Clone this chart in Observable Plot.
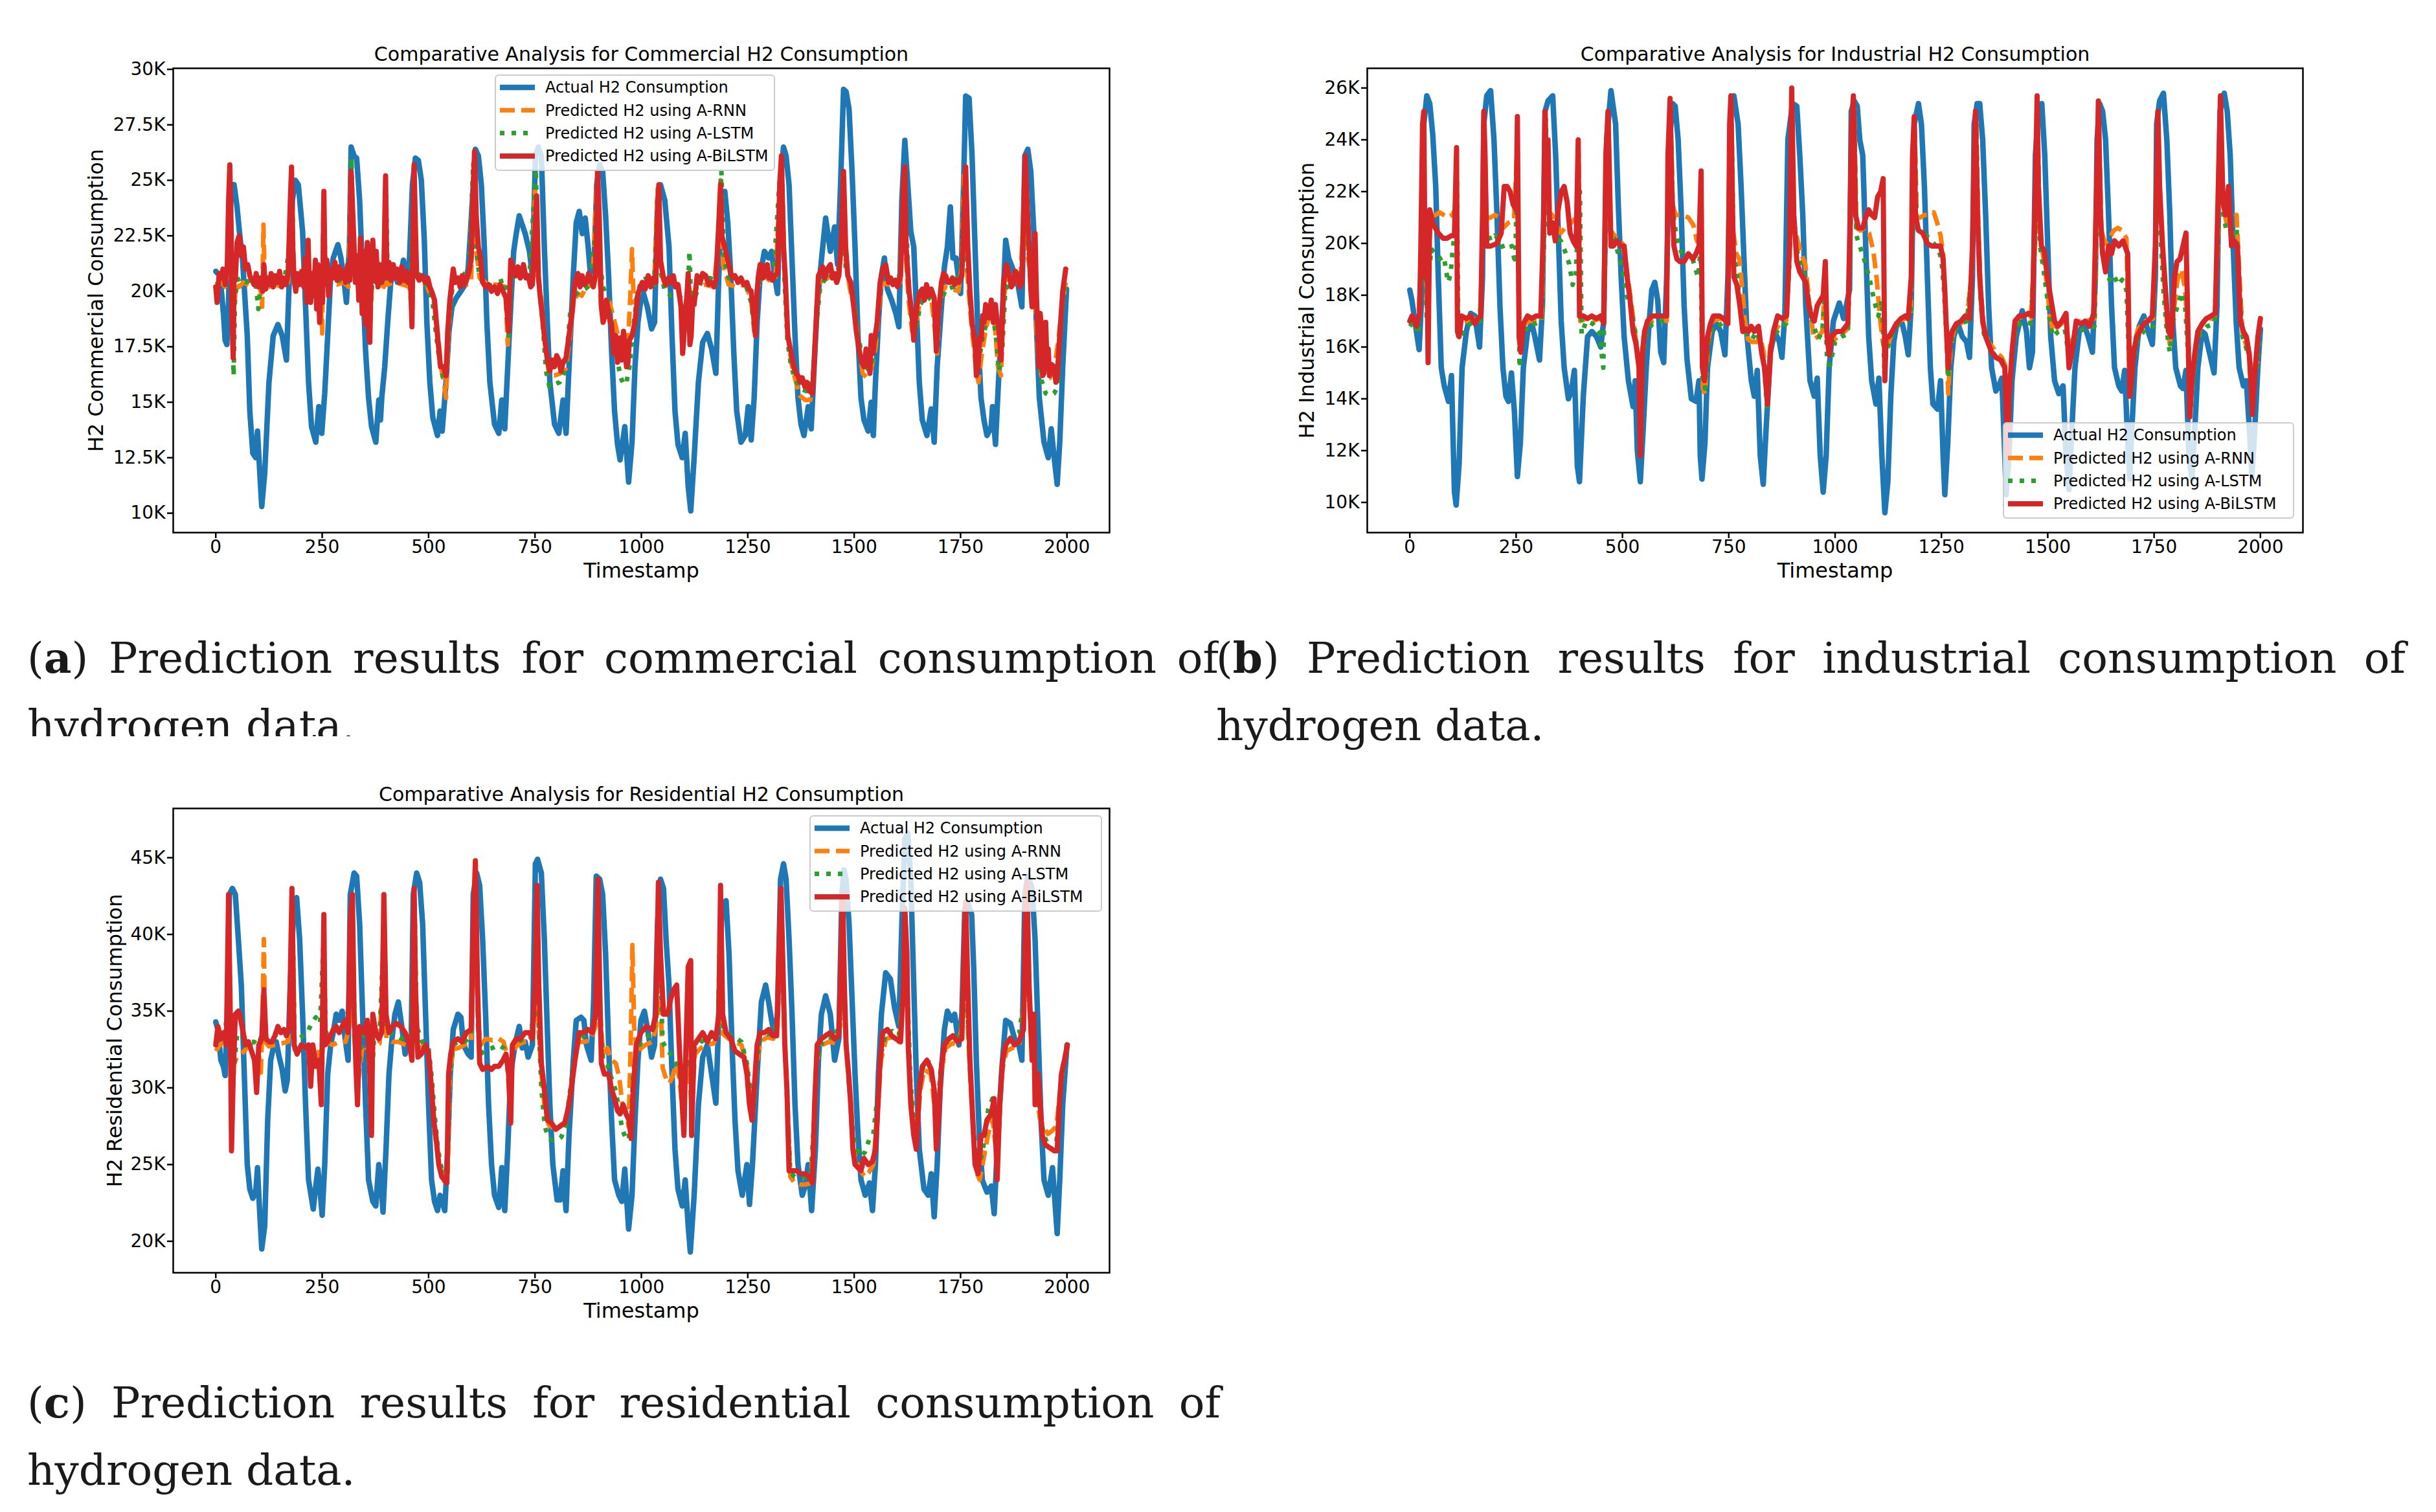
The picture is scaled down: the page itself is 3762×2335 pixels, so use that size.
<!DOCTYPE html>
<html>
<head>
<meta charset="utf-8">
<script src="https://cdn.jsdelivr.net/npm/d3@7"></script>
<script src="https://cdn.jsdelivr.net/npm/@observablehq/plot@0.6"></script>
<style>
  body { margin: 0; background: #fff; width: 3762px; height: 2335px; position: relative; overflow: hidden; }
  .panel { position: absolute; }
  .cap { position: absolute; font-family: "DejaVu Serif", serif; font-size: 66px; line-height: 104px; color: #1a1a1a; }
  .cap .l1 { text-align: justify; text-align-last: justify; }
</style>
</head>
<body>
<div id="pa" class="panel" style="left:60px;top:30px"></div>
<div id="pb" class="panel" style="left:1904px;top:30px"></div>
<div id="pc" class="panel" style="left:60px;top:1173px"></div>

<div class="cap" style="left:42px;top:964px;width:1840px;height:173px;overflow:hidden">
  <div class="l1">(<b>a</b>) Prediction results for commercial consumption of</div>
  <div>hydrogen data.</div>
</div>
<div class="cap" style="left:1878px;top:964px;width:1837px">
  <div class="l1">(<b>b</b>) Prediction results for industrial consumption of</div>
  <div>hydrogen data.</div>
</div>
<div class="cap" style="left:42px;top:2114px;width:1843px">
  <div class="l1">(<b>c</b>) Prediction results for residential consumption of</div>
  <div>hydrogen data.</div>
</div>

<script>
// values in thousands, stored as timestamp, value pairs
const xTicks = [0, 250, 500, 750, 1000, 1250, 1500, 1750, 2000]
const seriesNames = ['Actual H2 Consumption', 'Predicted H2 using A-RNN', 'Predicted H2 using A-LSTM', 'Predicted H2 using A-BiLSTM']

// commercial
const comActual = [0,20.9, 10,20.7, 18,19, 22,17.8, 26,17.6, 30,19.5, 36,24.8, 43,24.8, 50,23.8, 56,22.6, 63,21.4, 74,18, 80,14.6, 87,12.7, 94,12.5, 98,13.7, 102,12.3, 108,10.3, 115,11.8, 125,15.9, 135,18, 146,18.5, 156,18, 166,16.9, 173,20.7, 180,24.1, 187,25, 194,24.8, 204,22.7, 211,19.3, 218,15.9, 225,13.9, 235,13.2, 242,14.8, 249,13.6, 256,15.4, 263,18, 270,20.7, 276,21.5, 287,22.1, 294,21.5, 300,20.7, 307,19.5, 314,22, 318,26.5, 325,26.1, 331,26, 338,24.1, 345,20.7, 352,17.3, 359,15.2, 366,13.9, 376,13.2, 383,15.1, 387,14.2, 390,15.2, 397,16.6, 404,18.6, 411,20.4, 421,21, 427,20.4, 435,20.8, 441,21.4, 448,20.4, 455,21.4, 462,24.8, 469,26, 476,25.9, 483,25, 490,22.3, 496,18.6, 503,15.9, 510,14.3, 521,13.5, 527,14.6, 532,13.7, 541,15.9, 548,18.2, 555,19.3, 565,19.7, 576,20, 586,20.3, 593,21, 603,24.1, 610,26.4, 617,26.1, 624,24.8, 631,22, 637,18.6, 644,15.9, 655,14, 665,13.6, 672,15.1, 679,13.8, 686,16.6, 693,19.3, 700,21.8, 706,22.6, 713,23.4, 720,23, 727,22.6, 737,21.8, 744,20.7, 751,26.1, 758,26.5, 765,26.1, 772,22, 779,18.6, 785,15.9, 796,14, 806,13.6, 816,15.1, 823,13.6, 830,16.6, 840,20.7, 847,23.1, 854,23.6, 861,22.6, 868,23.3, 875,22, 882,20.4, 888,20.7, 895,24.8, 902,25.7, 909,25.4, 916,23.4, 923,20.7, 930,17.3, 937,14.6, 944,13.1, 950,12.4, 961,13.9, 970,11.4, 978,13.2, 985,16.6, 992,18.6, 1002,20.1, 1014,19.3, 1024,18.3, 1031,18.6, 1038,24.1, 1045,24.8, 1055,24.1, 1065,22, 1072,18, 1079,14.6, 1086,13.1, 1096,12.5, 1103,13.6, 1110,11.2, 1116,10.1, 1124,12.5, 1134,15.9, 1144,17.7, 1155,18.1, 1165,17.4, 1175,16.3, 1182,20.7, 1189,24.3, 1196,24.5, 1203,23.1, 1210,20.7, 1217,17.3, 1224,14.6, 1234,13.2, 1244,13.5, 1251,14.8, 1258,13.3, 1265,15.2, 1272,18.6, 1279,20.7, 1289,21.8, 1299,21.5, 1306,21.8, 1313,20.7, 1320,19.9, 1327,25, 1334,26.5, 1340,26.1, 1347,24.8, 1354,21.4, 1361,18, 1368,15.2, 1375,14, 1382,13.5, 1392,14.8, 1399,13.8, 1406,16.6, 1413,19.3, 1423,21.4, 1433,23.3, 1444,21.8, 1454,22.9, 1461,21.2, 1468,24.8, 1475,29.1, 1481,29, 1488,28.2, 1495,25.4, 1502,22, 1509,18, 1516,15.2, 1523,14.2, 1533,13.7, 1540,15, 1545,13.5, 1550,15.9, 1557,18.6, 1564,20.7, 1571,21.5, 1578,20.1, 1588,19.6, 1598,19, 1605,18.4, 1612,24.1, 1619,26.8, 1626,24.8, 1633,22.7, 1640,22, 1646,19.3, 1653,15.9, 1660,14.2, 1671,13.5, 1681,14.7, 1688,13.2, 1695,16.6, 1705,19.3, 1712,21.1, 1719,22, 1726,23.8, 1732,21.5, 1739,21.5, 1750,19.9, 1757,24.8, 1762,28.8, 1770,28.7, 1777,26.1, 1784,22, 1791,18, 1798,15.2, 1805,14.2, 1812,13.5, 1822,13.9, 1825,14.8, 1832,13.1, 1839,15.9, 1849,19.3, 1856,22.3, 1863,21.5, 1873,21, 1884,20.4, 1894,19.3, 1901,26.1, 1908,26.4, 1915,25.4, 1922,22.7, 1928,18.6, 1935,15.2, 1946,13.2, 1956,12.5, 1963,13.8, 1970,12.5, 1977,11.3, 1983,13.2, 1990,16.6, 1999,20.1]
const comRnn = [0,20.1, 8,20.3, 15,20.4, 22,20.2, 28,21, 31,24.5, 34,23, 37,20, 40,17.2, 44,19.5, 48,20.3, 55,20.2, 65,20.4, 75,20.3, 85,20.2, 95,20.3, 105,20.1, 109,19.3, 112,23, 115,20.4, 125,20.2, 140,20.3, 155,20.2, 170,20.4, 175,23.4, 178,25.4, 182,21, 186,20.3, 200,20.2, 215,20.4, 230,20.3, 245,20.2, 250,18.1, 253,24.2, 257,20.3, 270,20.4, 285,20.3, 300,20.4, 312,20.2, 317,25.2, 322,21.5, 330,20.5, 345,20.3, 356,20.2, 363,18.6, 367,20.3, 380,20.4, 395,20.2, 398,24.6, 402,20.3, 420,20.4, 440,20.3, 455,20.2, 462,19, 466,25, 470,21, 480,20.4, 495,20.3, 505,19.8, 515,19.4, 522,18, 530,16.5, 537,15.8, 541,15.2, 546,17.8, 552,19.8, 560,20.4, 575,20.5, 590,20.3, 600,20.5, 606,25.5, 611,22, 620,20.6, 640,20.3, 660,20.3, 680,20.2, 686,17.6, 692,20.8, 705,20.6, 720,20.7, 735,20.6, 745,20.4, 750,24.5, 755,21, 765,19.6, 775,17.5, 783,16.2, 795,16.2, 810,16.3, 822,16.5, 830,17.6, 840,19.4, 850,19.9, 860,19.8, 870,20.2, 885,20.3, 895,24.8, 900,21.5, 905,19.4, 915,19.7, 925,19.5, 935,18.8, 945,18, 955,17.3, 962,17.5, 968,17.4, 974,19.8, 978,21.9, 982,19.5, 990,19.7, 1000,20.2, 1015,20.3, 1030,20.3, 1038,24.6, 1043,21, 1055,20.3, 1070,20.2, 1085,20.2, 1095,19.3, 1100,17.8, 1105,19.5, 1112,20.2, 1120,19.5, 1130,20.2, 1150,20.3, 1170,20.2, 1180,22, 1186,25, 1192,21.2, 1205,20.3, 1225,20.2, 1245,20.3, 1258,19.6, 1265,18.2, 1272,20.1, 1285,20.8, 1300,20.5, 1315,20.5, 1325,24.5, 1330,25.6, 1336,21, 1343,18.3, 1352,16.8, 1362,16, 1372,15.3, 1385,15.1, 1397,15.1, 1404,16, 1410,18.5, 1418,20.4, 1430,20.5, 1445,20.7, 1460,20.4, 1470,22, 1474,25.2, 1480,21.4, 1490,20.1, 1500,19.3, 1510,17.7, 1520,16.3, 1530,16.1, 1540,16.5, 1550,17.4, 1558,19.2, 1565,20.4, 1580,20.3, 1595,20.2, 1608,20.4, 1615,24.2, 1620,22, 1628,19.6, 1636,18.2, 1645,18.5, 1655,19.6, 1665,19.8, 1680,19.9, 1690,18.2, 1695,17.2, 1700,19.5, 1712,20.2, 1730,20.1, 1745,20, 1752,21, 1758,25.2, 1765,21, 1775,18.6, 1785,16.8, 1792,15.9, 1800,17.2, 1810,18.4, 1820,19, 1830,18.6, 1838,16.6, 1845,16.2, 1852,19.8, 1860,20.6, 1875,20.5, 1890,20.3, 1897,23, 1902,25.8, 1908,21.5, 1916,20.7, 1925,19.6, 1932,17, 1940,16.2, 1950,16.1, 1960,16.1, 1970,16.5, 1980,17.8, 1988,19.3, 1997,20.4]
const comLstm = [0,20.3, 10,20.4, 20,20.5, 28,20.8, 33,25.7, 36,22, 39,18, 42,16.2, 45,19.5, 50,20.5, 60,20.6, 70,20.4, 80,20.5, 95,20.2, 100,19.2, 105,20.3, 120,20.4, 140,20.3, 160,20.4, 174,22, 178,25.7, 183,21, 195,20.3, 210,20.4, 225,20.3, 240,20.5, 250,19.7, 254,24, 258,20.6, 275,20.4, 290,20.5, 305,20.4, 316,21, 319,26, 323,21.5, 335,20.7, 350,20.5, 362,18.8, 368,20.5, 385,20.3, 397,20.6, 400,24.5, 404,20.6, 420,20.4, 440,20.6, 458,20.3, 466,25.4, 471,21, 485,20.5, 500,20.2, 510,19.4, 518,18, 526,16.8, 535,16, 542,16.3, 548,18.5, 555,20, 565,20.6, 580,20.7, 595,21, 605,25.8, 611,22, 620,20.6, 640,20.2, 660,20.4, 680,20.5, 688,18, 695,20.6, 710,20.7, 725,20.8, 738,21, 746,23.6, 752,25.5, 758,20.5, 768,18.6, 776,16.4, 784,15.7, 795,15.8, 808,15.9, 818,16.3, 826,17.5, 834,19.3, 842,19.8, 855,20, 868,20.1, 880,20.3, 893,23, 897,25.6, 902,21.3, 910,20.2, 920,19.7, 930,18.6, 940,17.4, 950,16.2, 958,15.8, 965,15.9, 972,16.6, 980,18.2, 990,19.8, 1000,20.5, 1015,20.6, 1030,20.3, 1038,24.2, 1044,21, 1055,20, 1070,19.8, 1085,19.9, 1097,19.6, 1102,18.6, 1108,19.5, 1113,21.8, 1117,19.4, 1125,19.7, 1140,20.4, 1160,20.6, 1176,20.5, 1182,22.5, 1188,25.4, 1194,21.5, 1205,20.6, 1225,20.5, 1245,20.3, 1258,19.5, 1265,18.5, 1272,20.2, 1290,20.9, 1310,20.6, 1324,24.8, 1330,25.6, 1336,20.6, 1343,17.8, 1352,16.6, 1362,16, 1374,15.6, 1388,15.5, 1398,15.6, 1405,16.5, 1412,18.6, 1420,20.2, 1440,20.8, 1460,20.4, 1470,22.5, 1474,25.3, 1480,21, 1490,20.4, 1500,19.5, 1510,18, 1520,16.8, 1532,16.5, 1542,16.8, 1550,17.8, 1558,19.6, 1565,20.6, 1585,20.4, 1605,20.5, 1615,24, 1620,24.5, 1627,20.6, 1636,18.5, 1645,18.2, 1655,19.4, 1670,19.8, 1688,19.5, 1694,17.5, 1700,19.3, 1715,20.1, 1735,20.2, 1752,21.2, 1758,24.7, 1765,21.4, 1775,19, 1785,17.3, 1793,16.8, 1802,18, 1812,18.6, 1822,19.1, 1832,18.2, 1840,16.4, 1848,17.4, 1855,20, 1865,20.5, 1880,20.4, 1895,21, 1902,25.4, 1908,22, 1916,20.8, 1925,20.4, 1932,17.8, 1940,16, 1950,15.4, 1960,15.3, 1970,15.4, 1978,15.7, 1985,18.2, 1992,20, 1998,20.2]
const comBi = [0,20.2, 3,19.5, 8,20.8, 12,20.6, 17,21, 22,20.3, 27,21.2, 30,24, 33,25.7, 36,23, 38,19, 41,17, 43,21, 46,20.5, 50,22.2, 55,22.5, 60,21.6, 65,22, 70,21, 75,21.2, 80,20.7, 85,20.5, 90,20.3, 95,20.8, 100,20.2, 105,20.6, 110,20, 113,21.2, 117,20.1, 122,20.6, 127,20.3, 130,20.8, 135,20.2, 140,20.7, 145,20.4, 150,20.9, 155,20.2, 160,20.6, 165,20.3, 170,20.8, 175,24, 178,25.6, 181,22, 184,20.5, 188,20, 192,20.8, 197,20.3, 202,20.9, 207,20.2, 210,21.5, 214,19.5, 217,22.3, 220,20.2, 223,19.5, 226,20.8, 230,19.8, 234,21.4, 237,19.2, 240,21.2, 244,18.6, 248,21, 251,19.5, 254,24.5, 257,20.3, 261,21.4, 265,19.8, 270,21, 275,20.6, 280,21.3, 285,20.5, 290,21.1, 295,20.6, 300,20.9, 305,20.4, 310,21.2, 315,20.5, 318,25.4, 321,24, 324,22.5, 328,20.4, 332,21.6, 336,19.6, 340,22.4, 344,19, 348,21.8, 352,18.5, 356,22.2, 360,18, 362,17.7, 365,21, 369,22.3, 373,20.5, 377,21.8, 381,20.2, 385,21.2, 390,20.4, 395,21, 399,25.2, 402,20.6, 407,21.3, 412,20.5, 417,21.2, 422,20.6, 427,21, 432,20.4, 437,21.1, 442,20.5, 447,20.9, 452,20.4, 457,20.8, 461,18.4, 463,22, 466,25.7, 469,23, 472,20.7, 478,20.5, 485,20.7, 492,20.4, 498,20.6, 503,20.2, 509,19.9, 514,19.6, 521,18, 528,16.6, 535,16.6, 541,16.2, 545,18.2, 550,19.6, 558,21, 563,20.4, 569,20.6, 574,20.2, 579,20.7, 584,20.3, 589,20.5, 595,20.9, 600,21.4, 603,23.4, 608,26.3, 612,23.4, 617,22, 622,21.5, 627,20.4, 634,20.2, 641,20.3, 648,20, 655,20.2, 662,19.9, 668,20.3, 675,20, 682,19.7, 688,18.2, 693,21.4, 700,21, 705,20.7, 710,21.1, 716,20.6, 723,21.2, 729,20.6, 734,20.7, 740,20.2, 744,20.3, 748,22, 751,23.1, 754,24.3, 758,20.7, 762,19.8, 765,19.3, 772,18, 779,16.9, 785,16.4, 790,16.9, 796,16.6, 801,17.1, 806,16.9, 811,16.4, 816,16.8, 823,17, 830,18, 837,19, 844,20.4, 851,20.8, 856,20.2, 861,20.7, 866,20.3, 871,20.4, 876,20.8, 882,20.5, 887,20.2, 892,20.7, 897,25.4, 901,23.4, 906,19.3, 910,18.6, 913,18.8, 918,19.6, 923,19, 927,18.6, 930,18.5, 935,17.2, 940,18, 944,16.8, 947,17.1, 951,17.9, 954,16.9, 958,18.2, 961,17.5, 965,16.6, 968,16.7, 972,17.8, 978,18, 985,18.6, 992,19.9, 1002,20.4, 1009,20.1, 1016,20.7, 1022,20.2, 1028,20.6, 1034,20.4, 1038,23.4, 1041,24.8, 1045,21.4, 1052,20.6, 1058,20.3, 1064,20.6, 1069,20.4, 1075,20.7, 1080,20.2, 1086,20.3, 1093,19.3, 1097,17.2, 1100,18, 1103,18.9, 1107,19.8, 1110,20.8, 1114,17.6, 1117,18, 1121,19.7, 1124,19.4, 1131,20.7, 1138,20.4, 1144,20.8, 1151,20.7, 1158,20.3, 1165,20.4, 1171,20.2, 1175,20.5, 1182,23.1, 1186,24.8, 1189,22.5, 1196,22, 1203,21.4, 1210,20.8, 1215,20.6, 1220,20.7, 1227,20.4, 1234,20.6, 1241,20.3, 1248,20.4, 1253,20.1, 1258,20, 1262,19.3, 1265,18.6, 1268,18, 1272,20, 1275,20.7, 1279,21.2, 1282,21.2, 1286,20.6, 1289,20.7, 1293,21.1, 1296,21.2, 1300,20.6, 1303,20.8, 1308,20.5, 1313,20.7, 1320,20.8, 1325,24.8, 1329,26.1, 1334,22, 1338,20.7, 1344,18, 1351,17.3, 1358,16.6, 1363,16.3, 1368,16.2, 1373,15.9, 1378,16.1, 1384,15.7, 1389,15.9, 1395,15.5, 1402,15.4, 1409,18, 1416,20.7, 1421,20.9, 1426,21.1, 1431,20.6, 1437,21, 1444,21.2, 1449,20.6, 1454,20.8, 1459,20.4, 1464,20.7, 1469,22, 1475,25.4, 1480,22, 1485,20.7, 1492,20.4, 1499,19.3, 1505,18.2, 1512,17.3, 1518,16.8, 1523,16.6, 1528,17.4, 1533,17.1, 1537,16.3, 1540,18, 1544,17.2, 1547,17.7, 1551,18.2, 1554,18.6, 1561,20.4, 1567,21, 1574,21.2, 1581,20.4, 1586,20.6, 1591,20.3, 1597,20.5, 1602,20.2, 1609,20.7, 1616,24.8, 1619,25.6, 1622,22, 1629,20, 1636,18.9, 1640,17.8, 1643,18.6, 1648,19.4, 1653,19.9, 1660,20.1, 1665,19.6, 1670,20.3, 1676,19.8, 1681,20.1, 1688,19.7, 1693,17.3, 1698,19, 1705,20.4, 1710,20.8, 1715,20.7, 1720,20.4, 1726,20.4, 1731,20.6, 1736,20.3, 1741,20.5, 1746,20.4, 1753,20.7, 1758,23.4, 1762,25.6, 1767,22, 1772,20, 1777,18.6, 1784,17.6, 1787,16.2, 1791,16.6, 1795,17.9, 1798,17.8, 1802,18.9, 1805,18.6, 1809,19.4, 1812,19.3, 1817,18.8, 1822,19.6, 1827,18.6, 1832,19.4, 1836,18.6, 1839,18.6, 1845,16.9, 1851,20.4, 1858,21.2, 1865,20.7, 1869,20.2, 1873,20.3, 1879,20.9, 1884,20.7, 1889,20.2, 1894,20.4, 1898,23.4, 1902,26.1, 1906,24.1, 1911,22, 1915,20.1, 1918,19.3, 1922,20.4, 1925,22.6, 1928,20, 1931,18.4, 1934,16.6, 1937,19, 1939,18.6, 1943,16.2, 1946,16.3, 1950,18.6, 1953,16.8, 1956,17.4, 1959,16.2, 1964,16.7, 1970,16.6, 1974,15.9, 1977,16.1, 1983,18, 1990,20, 1997,21]

// industrial
const indActual = [0,18.2, 5,17.8, 12,17, 22,15.9, 30,18.7, 33,24.6, 40,25.7, 47,25.4, 54,24.2, 61,22.2, 67,18.7, 74,15.2, 81,14.5, 91,13.9, 98,14.9, 105,10.4, 109,9.9, 116,11.5, 123,15.2, 133,16.6, 143,17.3, 153,17.2, 164,16, 171,18.7, 174,24.6, 181,25.7, 190,25.9, 198,24, 205,21.1, 212,17.6, 219,15.2, 226,14.1, 232,13.9, 239,15, 246,13.5, 253,11, 260,12.3, 267,15.2, 277,16.6, 287,16.9, 294,16.4, 305,15.5, 312,17.6, 318,25.1, 325,25.5, 336,25.7, 343,23.4, 349,20.5, 356,17, 363,15.2, 373,14, 380,14.3, 387,15.1, 394,11.4, 399,10.8, 408,14.1, 418,16.4, 428,16.6, 439,16.4, 449,16, 456,17, 463,24, 473,25.9, 484,24.6, 490,21.6, 497,18.7, 504,16.4, 514,14.7, 525,13.7, 530,14.7, 535,12, 542,10.8, 549,12.9, 556,15.2, 563,17, 569,18.2, 576,18.5, 583,17.8, 590,15.8, 597,15.4, 604,18.7, 611,24, 618,25.4, 624,25.3, 631,24, 638,21.3, 645,17.6, 652,15.5, 662,14, 673,13.9, 680,14.7, 683,11.8, 687,10.9, 694,12.3, 700,15.2, 711,16.6, 721,16.9, 731,16.6, 741,15.7, 748,18.7, 755,25.1, 762,25.7, 772,24.6, 779,22.2, 786,19.3, 793,16.4, 803,14.7, 810,14.1, 817,15.1, 824,11.8, 831,10.7, 838,12.9, 848,15.8, 858,16.6, 869,16.2, 875,15.6, 882,17.3, 889,24, 900,25.4, 910,25.3, 917,23.4, 924,21.1, 931,17.6, 941,14.7, 951,14.1, 958,14.8, 965,11.8, 972,10.4, 979,11.8, 986,15.2, 996,17, 1010,17.7, 1020,17.1, 1034,18.2, 1038,25.1, 1045,25.5, 1052,25.3, 1058,24, 1065,23.4, 1072,19.9, 1079,16.4, 1086,14.7, 1096,13.8, 1103,14.8, 1110,11.8, 1117,9.6, 1124,10.8, 1131,14.1, 1138,16.2, 1144,16.8, 1151,17, 1158,16.9, 1165,16.4, 1172,15.7, 1179,17.6, 1186,24.6, 1196,25.4, 1203,24.6, 1210,22.2, 1217,18.7, 1224,15.2, 1230,13.8, 1241,13.6, 1248,14.7, 1254,11.8, 1258,10.3, 1265,12.3, 1272,15.2, 1279,16.4, 1289,16.9, 1299,16.4, 1309,16.2, 1316,15.6, 1323,18.7, 1327,24.6, 1334,25.4, 1340,25.4, 1347,24, 1354,21.1, 1361,17.6, 1368,15.2, 1378,14.3, 1385,14.5, 1392,14.8, 1399,11.8, 1402,10.3, 1409,11.8, 1416,14.7, 1426,16.4, 1440,17.4, 1450,16.6, 1457,15.2, 1464,15.8, 1471,23.4, 1478,25.1, 1486,25.4, 1493,23.4, 1500,19.9, 1507,16.4, 1516,14.7, 1526,14.2, 1536,14.5, 1543,11.8, 1550,10.5, 1557,12.9, 1564,15.2, 1574,16.6, 1585,16.9, 1595,16.4, 1605,15.8, 1612,18.7, 1616,24, 1622,25.4, 1629,25.1, 1636,24, 1643,21.1, 1650,17.6, 1657,15.2, 1667,14.5, 1674,14.3, 1681,15.1, 1688,12.3, 1693,10.9, 1698,12.9, 1705,15.2, 1715,16.8, 1726,17.2, 1736,16.6, 1746,16.1, 1753,18.7, 1756,24.6, 1763,25.5, 1772,25.8, 1780,24, 1787,21.1, 1794,17, 1801,15.2, 1812,14.5, 1818,14.4, 1825,15.1, 1832,11.8, 1839,10.9, 1846,12.9, 1853,15.2, 1863,16.6, 1870,16.5, 1880,15.8, 1891,15, 1898,17.6, 1905,25.1, 1915,25.8, 1922,25.1, 1929,23.4, 1936,19.9, 1943,17, 1950,15.2, 1960,14.5, 1967,14.7, 1975,12.6, 1980,11, 1986,12.6, 1994,15.2, 2000,16.7]
const indRnn = [0,16.9, 10,17.1, 20,17, 26,19, 31,23.5, 35,21, 40,17.5, 44,19.5, 50,21, 60,21.1, 70,21.2, 80,21.1, 90,21, 100,21.1, 106,21.3, 110,22, 113,16.8, 120,17, 135,17, 150,17.1, 165,17, 171,20, 175,24.5, 180,21, 190,21, 200,21.1, 210,21, 220,20.6, 232,20.8, 245,20.9, 252,23.5, 257,16.5, 265,16.8, 280,17, 295,17, 310,17, 315,20.5, 319,25, 324,21.2, 335,21.1, 345,20.7, 355,20.4, 365,20.6, 375,20.7, 385,20.9, 392,21, 397,23.5, 401,17, 415,17.1, 430,17, 445,17.1, 456,17, 462,22, 467,24.8, 472,20.5, 482,20.3, 492,20.1, 500,20, 510,19, 520,17.8, 530,16.5, 538,15.5, 543,13, 548,16, 555,16.8, 570,17, 590,17.1, 604,17, 608,23, 613,25.3, 618,21.5, 625,21.1, 640,21.1, 655,21, 667,20.7, 675,20.1, 681,20.4, 686,21, 689,14.4, 694,14.2, 702,16.3, 712,17, 730,17.1, 747,17, 752,23.5, 756,25.4, 760,20.5, 768,19.6, 775,19.4, 782,18.2, 788,17, 795,16.3, 805,16.2, 815,16.2, 825,16.3, 832,15.8, 840,14.2, 848,16.2, 858,16.6, 870,16.9, 885,17, 893,19.5, 898,25.2, 903,20.8, 912,20.1, 920,19.6, 930,19.2, 940,17.6, 950,16.3, 960,16.4, 970,16.6, 977,18.8, 981,16.6, 988,16.2, 1000,16.3, 1015,16.5, 1030,16.7, 1035,20, 1040,24.5, 1045,25.2, 1050,20.6, 1060,20.5, 1070,20.6, 1080,20.4, 1090,19.7, 1098,18.6, 1105,17.2, 1112,16.2, 1118,15.8, 1125,16.1, 1135,16.6, 1150,17, 1165,17.1, 1178,17.2, 1183,22.5, 1187,24.6, 1192,21, 1200,21, 1210,21.1, 1220,21.1, 1232,21.2, 1240,20.8, 1248,20.3, 1254,19.6, 1258,18, 1262,16.4, 1266,14.2, 1272,16, 1280,16.7, 1295,16.9, 1310,17.1, 1322,19, 1328,24.2, 1332,24.8, 1337,20.4, 1343,18, 1350,16.8, 1360,16.2, 1370,16, 1380,15.8, 1392,15.6, 1400,15.3, 1406,12.6, 1410,14.6, 1418,16.2, 1428,17.1, 1445,17.2, 1460,17.1, 1470,20, 1476,25, 1481,20.5, 1490,19.4, 1498,18.4, 1505,17.2, 1512,16.6, 1525,16.8, 1540,17, 1550,15.8, 1558,16.3, 1570,17, 1590,17, 1610,17.1, 1616,22, 1620,24.8, 1626,20.5, 1635,20, 1645,20.2, 1655,20.5, 1665,20.6, 1675,20.5, 1685,20.2, 1690,16.5, 1695,14.6, 1702,16, 1712,16.7, 1730,17, 1748,17.1, 1754,20.5, 1760,24.4, 1765,21, 1772,19, 1780,17, 1787,16.1, 1795,17.2, 1805,18.6, 1815,19, 1823,18.2, 1830,16.4, 1836,14, 1842,15, 1850,16.3, 1860,16.8, 1875,17.1, 1892,17.1, 1900,20, 1906,24.8, 1912,21.5, 1920,20.8, 1930,20.8, 1938,21, 1944,21.1, 1950,19, 1958,16.5, 1966,16.1, 1975,15.6, 1982,14.8, 1990,15.4, 2000,15.5]
const indLstm = [0,16.8, 10,17, 20,16.5, 26,18.5, 31,23.5, 35,20.5, 40,17, 44,18.5, 50,19.8, 60,19.6, 70,19.4, 80,19.5, 90,18.5, 96,18.8, 100,19.6, 106,20.5, 111,22.5, 114,16.3, 122,16.5, 135,16.8, 150,17, 165,17, 171,19.8, 175,24, 180,20.6, 190,20.1, 200,20.3, 210,20.2, 220,19.8, 230,19.8, 240,19.9, 248,19.2, 253,23.5, 258,15.2, 265,16.4, 280,16.9, 295,16.9, 310,17, 316,20.3, 320,24.8, 325,20.5, 335,20.5, 345,20.3, 355,20.1, 365,19.7, 375,19.2, 383,18.4, 390,18.8, 395,20.5, 400,22, 404,16.5, 415,17, 430,16.9, 445,16.6, 455,15.2, 462,22, 467,24.6, 472,20.3, 480,20.2, 490,19.6, 500,19, 510,18, 520,17.5, 530,16.6, 538,15.4, 543,12.5, 548,15.6, 555,16.5, 570,16.9, 590,17, 604,17, 608,23, 613,25.2, 618,21.3, 625,20.5, 635,19.8, 645,19.4, 655,19.6, 665,19.4, 672,19, 678,18.7, 684,19.8, 688,14.8, 694,14.4, 702,16, 712,16.8, 725,16.8, 740,17, 748,16.9, 752,23.5, 756,25.5, 761,19.8, 770,18.7, 778,17.4, 785,16.7, 795,16.4, 805,16.3, 815,16.6, 825,16.1, 833,15.4, 840,13.6, 848,15.9, 858,16.4, 870,16.8, 885,16.9, 893,19.5, 898,25, 903,20.6, 912,19.6, 920,19.1, 930,18.7, 940,17.6, 950,16.8, 960,16.3, 970,16.6, 977,18.3, 981,15.4, 988,15.3, 1000,16.2, 1015,16.4, 1030,16.5, 1035,19.5, 1040,24.2, 1045,25, 1050,20.3, 1060,19.8, 1070,19.3, 1080,18.7, 1088,18.1, 1095,17.6, 1102,17.2, 1110,17.8, 1116,15.2, 1122,15.9, 1135,16.5, 1150,16.9, 1165,17, 1178,17.1, 1183,22, 1187,24.4, 1192,20.6, 1200,20.5, 1210,20.4, 1220,20.2, 1232,20, 1242,19.8, 1250,19.4, 1256,18.2, 1262,16.4, 1266,14.8, 1272,16.1, 1280,16.6, 1295,16.9, 1310,17, 1322,19, 1328,24, 1332,24.6, 1337,20, 1343,17.6, 1350,16.5, 1360,16.2, 1370,15.8, 1380,15.6, 1392,15.5, 1400,15, 1406,12.6, 1410,14.4, 1418,16.1, 1428,16.8, 1445,17, 1460,16.9, 1470,20, 1476,24.6, 1481,20, 1490,19, 1498,18, 1505,17, 1512,16.4, 1525,16.6, 1540,16.7, 1550,15.6, 1558,16.1, 1570,16.6, 1590,16.7, 1610,16.8, 1616,21.5, 1620,24.4, 1626,20, 1635,19.2, 1645,18.6, 1655,18.8, 1665,18.4, 1675,18.6, 1685,18.2, 1690,16, 1695,14.3, 1702,15.6, 1712,16.3, 1730,16.7, 1748,16.8, 1754,20.2, 1760,24, 1765,20.4, 1772,18.2, 1780,16.6, 1787,15.8, 1795,17, 1805,17.6, 1815,18.1, 1823,17.6, 1830,15.7, 1836,13.6, 1842,14.8, 1850,16, 1860,16.5, 1875,16.8, 1892,16.9, 1900,20, 1906,24.5, 1912,21.2, 1920,20.5, 1930,20.4, 1938,20.4, 1944,20.6, 1950,18.5, 1958,16.4, 1966,16, 1975,15.5, 1982,14.5, 1990,15, 2000,16.5]
const indBi = [0,17, 5,17.2, 9,17.1, 16,16.8, 23,17.3, 26,19.9, 30,24.6, 33,25.1, 36,18.7, 40,21.1, 43,15.4, 47,21.3, 54,20.8, 60,20.6, 67,20.4, 78,20.2, 88,20.2, 98,20.3, 105,20.3, 110,23.7, 112,16.6, 116,16.4, 122,17.2, 133,17.1, 143,17.2, 153,16.9, 160,17.1, 167,17.2, 171,21.1, 174,25.1, 177,23.4, 181,19.9, 191,19.9, 205,20, 215,20.4, 222,22.2, 229,22.2, 236,22, 243,21.5, 250,21.3, 253,24.9, 257,16.4, 261,15.8, 267,16.9, 277,17.2, 287,17.1, 297,17.2, 308,17.2, 315,21.1, 318,25.1, 322,22.2, 325,24, 329,20.4, 336,20.8, 342,20.1, 349,21.3, 356,22, 363,22.2, 370,21.6, 377,20.4, 384,20.1, 391,19.9, 396,24, 399,17.2, 408,17.2, 418,17.1, 428,17.2, 439,17.1, 449,17.2, 456,16.9, 461,23.4, 466,25.1, 470,22.2, 473,19.9, 479,19.9, 487,20.1, 497,19.9, 504,19.9, 511,18.7, 518,17.8, 525,16.6, 532,16.1, 539,15.2, 542,11.8, 547,15.8, 552,16.6, 559,17, 569,17.2, 583,17.2, 594,17.2, 604,17.2, 607,23.4, 612,25.6, 616,22.2, 621,19.9, 628,19.4, 635,19.3, 645,19.3, 655,19.6, 666,19.4, 673,19.6, 680,19.9, 685,22.8, 688,15.2, 693,14.7, 700,16.4, 707,16.9, 714,17.2, 728,17.2, 738,17.1, 748,16.9, 752,24.6, 755,25.7, 759,21.1, 762,18.7, 769,18.4, 776,17.6, 783,16.6, 790,16.7, 796,16.6, 803,16.8, 810,16.6, 820,16.8, 827,15.8, 834,15.2, 841,13.8, 848,15.8, 855,16.6, 865,17.2, 876,17.1, 886,17.2, 893,19.9, 898,26, 903,21.1, 910,19.3, 917,18.9, 924,18.7, 931,18.5, 938,17.6, 944,17.2, 951,17, 958,17.6, 965,17.8, 972,18, 977,19.3, 981,16.4, 986,15.7, 992,16.4, 1003,16.6, 1016,16.6, 1030,16.9, 1034,19.9, 1039,24.6, 1043,25.7, 1048,21.1, 1055,20.6, 1065,20.6, 1072,21, 1079,21.3, 1086,21.1, 1093,21, 1100,21.8, 1107,22, 1113,22.5, 1117,14.7, 1120,16.4, 1127,16.4, 1134,16.6, 1144,16.9, 1155,17.1, 1165,17.2, 1172,17.1, 1179,18.7, 1182,23.4, 1186,24.9, 1189,21.1, 1196,20.5, 1206,20.4, 1217,20, 1227,19.9, 1237,19.9, 1248,19.9, 1254,19.4, 1258,18.2, 1261,17, 1266,15.2, 1270,16.2, 1275,16.6, 1285,16.9, 1296,17, 1306,17.2, 1316,17.1, 1323,19.9, 1327,23.4, 1330,25.1, 1335,21.1, 1340,18.7, 1347,17, 1354,16.4, 1361,16.1, 1368,15.8, 1378,15.6, 1389,15.5, 1399,15.2, 1406,11.8, 1409,14.1, 1416,15.8, 1423,17, 1433,17.2, 1444,17.2, 1454,17.3, 1464,17.2, 1471,22.2, 1475,25.7, 1478,22.2, 1485,19.9, 1492,19.7, 1499,18.7, 1506,18, 1516,17, 1523,16.8, 1533,17, 1543,17.3, 1550,15.2, 1557,15.8, 1567,17, 1578,16.9, 1588,17, 1598,16.8, 1608,17.3, 1615,22.2, 1619,25.5, 1624,21.1, 1629,19.6, 1636,18.9, 1643,19.9, 1650,19.6, 1657,20.1, 1667,19.9, 1677,20.1, 1688,19.6, 1693,14.1, 1697,14.7, 1702,15.8, 1709,16.4, 1716,16.6, 1726,16.9, 1736,17, 1746,17.2, 1753,19.9, 1759,25.1, 1763,22.2, 1770,19.9, 1777,18.2, 1784,16.6, 1791,16.4, 1798,18.7, 1804,19.3, 1811,19.4, 1818,19.9, 1825,20.4, 1830,16.4, 1834,13.3, 1839,14.7, 1846,15.8, 1853,16.6, 1863,16.9, 1873,17.1, 1884,17.2, 1894,17.3, 1901,22.2, 1906,25.7, 1912,21.6, 1918,21.1, 1925,22.2, 1932,19.9, 1939,20.1, 1946,19.9, 1953,17, 1960,16.6, 1967,16.4, 1974,15.7, 1981,13.4, 1988,15.2, 1994,16.4, 2000,17.1]

// residential
const resActual = [0,34.3, 5,33.8, 12,31.8, 18,31.4, 22,30.8, 27,34.8, 32,42.6, 39,43, 46,42.6, 53,39.7, 60,36.7, 67,30.9, 74,25, 80,23.4, 87,22.8, 94,23.2, 98,24.8, 103,22, 108,19.5, 115,21, 122,27.9, 129,31.8, 135,32.6, 142,33, 149,32, 156,31.2, 163,29.8, 168,30.5, 175,36.7, 184,42.2, 190,42.4, 197,39.7, 204,34.8, 211,28.9, 218,24, 229,22.1, 235,23.6, 240,24.7, 246,23, 250,21.7, 256,25, 263,30.9, 270,32.8, 276,33.6, 283,34.8, 290,34.4, 297,35, 304,33.2, 311,31.8, 316,42.6, 325,44, 331,43.8, 338,40.7, 345,34.8, 352,28.9, 359,24, 369,22.6, 376,22.3, 383,25, 388,23.8, 393,21.9, 400,26, 407,30.9, 414,33.2, 421,34.8, 429,35.6, 438,33.8, 445,32.2, 452,33.2, 459,32.8, 464,42.6, 472,44, 479,43.4, 486,40.7, 493,34.8, 500,28.9, 507,24, 514,22.6, 521,22, 527,23, 533,22.5, 538,22, 545,26, 551,30.9, 558,33.8, 569,34.8, 576,34.6, 582,32.8, 593,32.2, 600,32, 605,42.6, 613,44, 620,43.2, 627,39.7, 634,34.8, 641,28.9, 648,25, 655,23, 665,22.2, 672,24.8, 679,22, 686,26, 693,30.9, 703,32.8, 713,34, 720,32.6, 727,33, 734,32, 744,32.8, 751,44.6, 756,44.9, 765,44, 772,39.7, 779,33.8, 785,28.9, 792,25, 802,22.7, 809,22.7, 816,24.6, 823,22, 830,26.9, 840,31.8, 847,34.4, 858,34.6, 865,34.4, 871,32.8, 882,31.8, 888,35.8, 894,43.8, 902,43.6, 909,42.6, 916,38.7, 923,32.8, 930,27.9, 937,24, 947,23, 954,22.6, 961,24.7, 970,20.8, 978,23, 985,27.9, 992,31.8, 999,34.4, 1007,35, 1016,33.6, 1024,32, 1031,32.8, 1038,40.7, 1045,43.6, 1052,43, 1058,39.7, 1065,36.7, 1072,30.9, 1079,26, 1086,23.4, 1096,22.3, 1103,24, 1110,21, 1115,19.3, 1124,23, 1134,28.9, 1144,32, 1155,32.8, 1165,30.9, 1175,29, 1182,34.8, 1189,41.7, 1199,42.2, 1206,38.7, 1213,32.8, 1220,27.9, 1227,24.6, 1237,23, 1248,25, 1254,22.4, 1261,25, 1272,30.9, 1282,35.6, 1292,36.7, 1299,35.6, 1306,34.4, 1313,33.4, 1320,34.8, 1327,43.6, 1334,44.6, 1340,43.6, 1347,39.7, 1354,34.8, 1361,28.9, 1368,25, 1378,23, 1385,23.6, 1392,25, 1400,22, 1409,26, 1416,31.8, 1423,34.8, 1433,36, 1444,34.8, 1454,31.8, 1464,33.2, 1471,42.6, 1476,44.2, 1481,43.6, 1488,40.7, 1495,35.8, 1502,30.9, 1509,26.9, 1516,24, 1526,23, 1536,23.8, 1543,22, 1550,25, 1557,30.9, 1564,34.8, 1574,37.5, 1585,37.1, 1595,35.2, 1605,34, 1612,40.7, 1619,46.2, 1626,46.6, 1633,43.6, 1640,36.7, 1646,30.9, 1653,26, 1664,23.4, 1674,23, 1681,24.4, 1688,21.6, 1695,25, 1702,29.9, 1712,33.8, 1719,35, 1729,34.4, 1736,34.8, 1746,32.8, 1753,34.8, 1760,41.7, 1767,42.1, 1776,41.3, 1781,37.7, 1787,31.8, 1794,26.9, 1801,24, 1812,23.2, 1822,23.6, 1829,21.8, 1836,26, 1846,30.9, 1856,34.4, 1867,34.2, 1877,33.2, 1887,32.8, 1894,31.8, 1901,42.6, 1908,43.8, 1918,43, 1925,39.7, 1932,33.8, 1939,27.9, 1946,24, 1956,23, 1966,24.8, 1977,20.5, 1983,24, 1990,28.9, 2000,32.8]
const resRnn = [0,32.4, 10,32.8, 20,33, 28,34.5, 31,40, 35,32, 38,29, 42,31.5, 50,32, 60,32.2, 70,32.5, 80,32.8, 90,32.6, 100,32.4, 106,31, 110,35, 113,39.7, 116,33, 125,32.7, 140,32.8, 155,32.9, 170,33, 176,36, 180,42, 185,32.5, 200,32.7, 215,32.6, 225,31.5, 240,32.6, 250,31, 254,39, 258,33, 275,32.8, 290,33, 305,33, 314,34, 320,41.5, 325,33.5, 335,30.5, 345,32.8, 360,32.5, 365,29.5, 370,32.8, 385,32.9, 396,40.5, 401,33.2, 415,33, 430,33, 445,32.8, 455,32.7, 463,33.5, 467,42.5, 472,33, 485,32.6, 500,32.4, 508,30, 515,27, 522,25.5, 530,24.4, 538,23.8, 545,24.5, 550,31, 558,32.5, 570,32.6, 585,32.8, 600,33, 606,39, 611,42, 616,34, 622,32.8, 635,33.2, 650,33.1, 665,33.2, 676,33, 683,32.3, 690,29.5, 696,32.4, 710,32.8, 725,33, 740,33, 748,35, 753,39, 758,34, 765,31, 773,28.6, 782,27.6, 792,27.4, 802,27.3, 812,27.6, 822,27.8, 832,29.5, 842,31.5, 852,33, 866,33, 880,33.1, 892,34, 898,42.5, 903,35, 910,32.2, 920,32.6, 930,31.8, 940,31.6, 948,30.7, 955,29, 962,28.6, 970,27.5, 975,33, 979,39.3, 983,34, 990,32.2, 1000,32.6, 1010,32.8, 1025,33, 1035,34, 1040,41.5, 1045,36, 1050,31.3, 1058,30.6, 1066,30.3, 1074,30.8, 1082,31.6, 1090,30.5, 1097,28.3, 1103,30.2, 1110,31.6, 1118,28.8, 1126,32.2, 1140,32.6, 1155,32.8, 1170,32.9, 1180,33.5, 1186,41.5, 1192,33.5, 1205,33.2, 1220,33, 1235,32.8, 1248,31.5, 1256,29.5, 1262,28.3, 1270,31.5, 1280,33, 1295,33.3, 1310,33.2, 1320,34, 1327,42.5, 1332,37, 1338,32.5, 1344,28.5, 1350,24.2, 1360,23.8, 1372,23.7, 1385,23.7, 1398,23.8, 1405,27, 1412,31.8, 1425,32.8, 1440,33, 1455,32.9, 1467,34, 1472,41, 1477,35, 1483,32, 1490,29.5, 1497,26.2, 1505,25.2, 1515,24.6, 1525,24.2, 1535,24.5, 1545,25, 1555,28.5, 1563,31.8, 1575,33.2, 1590,33.3, 1605,33, 1615,36, 1620,41, 1626,35, 1632,30, 1640,27.5, 1648,27, 1655,29.8, 1665,31.2, 1680,30.9, 1690,28.5, 1696,27, 1703,30.8, 1715,32.6, 1730,32.9, 1745,32.8, 1753,34, 1760,40.5, 1766,34.5, 1773,30.5, 1780,27, 1787,24.5, 1795,24, 1805,25.5, 1815,27, 1825,28, 1833,26, 1840,27.5, 1848,31.2, 1858,32.4, 1872,32.6, 1888,32.8, 1900,35.5, 1906,42.5, 1912,35, 1920,32, 1928,30, 1936,28, 1945,27.5, 1955,27, 1965,27.2, 1975,27.5, 1983,29.5, 1992,31.8, 2000,32.5]
const resLstm = [0,33, 10,33.5, 20,33.4, 28,35, 31,41, 35,32.5, 38,28, 42,31, 50,33.5, 60,33.3, 70,33.2, 80,33, 90,33, 100,32.8, 110,33.6, 113,35.5, 118,33.2, 130,33.4, 145,33.5, 160,33.5, 175,34.5, 180,42.5, 185,33, 200,33.3, 215,33.6, 225,34.2, 235,34.6, 245,34.2, 254,40, 258,33.5, 275,33.7, 290,33.8, 305,34, 316,36, 321,42, 326,34, 335,31, 345,33.5, 360,33.4, 366,30, 372,33.4, 385,33.5, 396,41, 401,33.8, 415,33.5, 430,33.3, 445,33.1, 458,32.8, 467,42, 472,34, 485,33, 500,32.6, 508,30.5, 515,28, 522,26, 530,24.8, 538,24.4, 545,25.3, 550,30.5, 558,32.8, 570,33, 585,33, 600,33.4, 606,39.5, 611,43.5, 616,35, 622,32.2, 635,32.5, 650,32.6, 665,32.8, 676,32.6, 683,32.2, 690,30, 696,32.6, 710,33, 725,33.2, 740,33.2, 748,35.5, 753,40.5, 758,34.5, 765,30, 773,27.5, 782,26.7, 792,26.6, 802,26.6, 812,26.8, 822,27.5, 832,29.7, 842,31.8, 852,33.2, 866,33.4, 880,33.5, 892,34.5, 898,42, 903,34.5, 910,31.8, 920,31.5, 930,30.6, 940,29.8, 948,28.5, 955,27.3, 962,26.8, 970,26.6, 976,28, 981,31, 990,32.5, 1000,33, 1010,33.3, 1025,33.5, 1035,34.5, 1040,42.5, 1045,37, 1050,33, 1058,32.6, 1066,32.3, 1074,32, 1082,31.5, 1090,31, 1097,29, 1103,31, 1110,32, 1118,30.5, 1126,32.5, 1140,33, 1155,33.2, 1170,33.4, 1180,34, 1186,42, 1192,34, 1205,33.5, 1220,33.3, 1235,33, 1248,31.6, 1256,29.8, 1262,28.6, 1270,31.5, 1280,33.2, 1295,33.5, 1310,33.5, 1320,34.5, 1327,42, 1332,37.5, 1338,32.2, 1344,28, 1350,24.5, 1360,24.2, 1372,24.2, 1385,24.2, 1398,24.3, 1405,27.5, 1412,31.6, 1425,33, 1440,33.3, 1455,33.2, 1467,34.5, 1472,41.5, 1477,35.5, 1483,32.2, 1490,29.5, 1497,27, 1505,26.2, 1515,25.5, 1525,25.8, 1535,26.6, 1545,27, 1555,29.5, 1563,32.2, 1575,33.6, 1590,33.7, 1605,33.4, 1615,36.5, 1620,41.5, 1626,35.5, 1632,30.5, 1640,28, 1648,28, 1655,30.2, 1665,31.8, 1680,31.6, 1690,29.5, 1696,28.4, 1703,31.2, 1715,33, 1730,33.3, 1745,33.2, 1753,34.5, 1760,41, 1766,35, 1773,31, 1780,27.5, 1787,25.3, 1795,25, 1805,26.4, 1815,28.6, 1825,29.3, 1833,27.6, 1840,28.6, 1848,31.5, 1858,33, 1872,33.4, 1888,33.6, 1900,36, 1906,43, 1912,35.5, 1920,33, 1928,30.5, 1936,28.5, 1945,27, 1955,26.3, 1965,26, 1975,26.4, 1983,29, 1992,31.5, 2000,32.6]
const resBi = [0,32.8, 5,34, 12,33.2, 19,33.6, 25,32.8, 30,42.6, 34,34.8, 37,25.9, 41,30.8, 46,34.8, 53,35, 56,34.8, 63,33.8, 70,32.8, 77,33, 84,32.4, 91,31.8, 96,29.7, 101,32.8, 108,33.2, 113,36.4, 118,33.2, 125,33, 132,33, 139,33.4, 146,34, 153,33.6, 160,33.8, 166,33.4, 173,34, 179,43, 184,32.8, 191,32.2, 201,32.8, 211,32.6, 218,32.8, 223,30.1, 228,32.8, 235,31.4, 242,31.8, 248,28.9, 254,41.3, 257,32.8, 263,33, 270,33.4, 276,33.8, 283,34, 290,33.6, 297,34, 304,34.4, 311,33.6, 316,40.7, 321,42.6, 325,34.8, 330,30.9, 333,28.9, 338,34, 349,33.6, 356,34.4, 362,30.9, 366,26.9, 369,34.8, 376,33.6, 383,33.2, 390,33.6, 395,42.6, 400,34.8, 407,33.6, 415,34, 424,34.2, 435,34, 445,33.6, 455,32.8, 461,31.8, 466,43, 469,36.7, 475,32, 483,32.2, 493,32.8, 500,32.2, 507,29.9, 512,27.9, 517,26.9, 524,25, 531,24.2, 538,24, 543,23.8, 547,30.9, 552,32.2, 558,33, 569,33.2, 579,33, 589,33.6, 600,33.8, 605,40.7, 610,44.8, 615,36.7, 620,31.6, 627,31.2, 638,31.4, 648,31.2, 655,31.4, 665,31.4, 675,31.8, 682,32.2, 688,30.9, 693,27.7, 697,32.8, 706,33.2, 716,33.2, 727,33.6, 737,33.6, 744,33.2, 750,36.7, 755,43.2, 759,36.7, 765,31.6, 772,29.9, 779,27.9, 789,27.7, 799,27.3, 809,27.5, 820,27.7, 830,28.9, 837,30.3, 844,31.8, 854,33.6, 864,33.6, 875,33.8, 885,33.6, 892,34.8, 898,43.6, 902,36.7, 906,31.6, 913,30.9, 923,30.9, 930,29.9, 937,29.3, 944,28.5, 950,28.3, 957,28.9, 964,28.3, 971,27.9, 976,26.7, 981,29.9, 988,32.8, 999,33.6, 1012,34, 1026,33.8, 1034,34.8, 1040,43.4, 1045,38.7, 1052,34.8, 1062,34.8, 1069,35.8, 1076,36.4, 1083,36.7, 1089,32.8, 1096,28.9, 1100,26.9, 1103,30.9, 1110,37.9, 1116,38.3, 1118,26.9, 1124,32.8, 1134,33.2, 1144,33.6, 1155,33, 1165,33.6, 1175,33.2, 1182,34.8, 1186,43.2, 1191,34.8, 1199,33.6, 1210,33.2, 1220,32.4, 1230,32.2, 1241,32, 1248,30.9, 1254,28.9, 1260,27.9, 1265,29.9, 1272,32.8, 1279,33.6, 1289,33.6, 1299,33.8, 1309,33.4, 1318,33.4, 1323,38.7, 1328,43, 1332,38.7, 1337,32.8, 1342,29.9, 1347,24.6, 1354,24.6, 1365,24.6, 1375,24.4, 1385,24.4, 1395,24.2, 1402,23.8, 1407,28.9, 1413,32.8, 1423,33.2, 1433,33.4, 1444,33.6, 1454,33.2, 1464,33.4, 1469,38.7, 1473,42.6, 1477,36.7, 1481,32.8, 1487,30.9, 1492,28.9, 1497,26, 1502,25, 1509,24.8, 1516,24.6, 1523,25.4, 1533,25, 1543,25.2, 1550,26, 1556,28.9, 1561,31.8, 1567,33.6, 1578,33.8, 1588,33.4, 1598,33.2, 1609,33, 1616,36.7, 1619,41.7, 1624,38.7, 1627,32.8, 1633,28.9, 1640,26.9, 1646,26, 1653,29.9, 1660,31.4, 1671,31.8, 1681,31.2, 1688,29.9, 1693,26, 1698,27.9, 1705,31.4, 1712,32.8, 1722,33.2, 1732,33.4, 1743,33, 1753,33.2, 1758,38.7, 1762,42.1, 1767,36.7, 1772,31.8, 1777,28.9, 1784,25, 1791,24.4, 1798,26.9, 1805,26.9, 1812,27.9, 1822,28.3, 1829,29.3, 1836,24, 1842,28.9, 1849,31.8, 1856,32.8, 1867,33.2, 1877,32.8, 1887,33, 1898,33.8, 1902,40.7, 1906,43.4, 1911,36.7, 1918,31.8, 1922,34.8, 1925,28.9, 1932,30.9, 1942,26.9, 1949,26.3, 1959,26.1, 1970,25.9, 1977,25.9, 1982,28.9, 1987,30.9, 1994,31.8, 2001,32.8]

const styles = [
  {stroke: '#1f77b4', strokeWidth: 8.5, dash: null},
  {stroke: '#ff7f0e', strokeWidth: 7, dash: '23,10'},
  {stroke: '#2ca02c', strokeWidth: 7, dash: '7,11'},
  {stroke: '#d62728', strokeWidth: 8, dash: null},
]

function rows(arr) {
  const out = []
  for (let i = 0; i < arr.length; i += 2) out.push({t: arr[i], v: arr[i + 1]})
  return out
}

function makePanel(p) {
  const lines = p.series.map((s, i) => Plot.line(rows(s), {
    x: 't', y: 'v',
    stroke: styles[i].stroke,
    strokeWidth: styles[i].strokeWidth,
    strokeDasharray: styles[i].dash,
    strokeLinejoin: 'round',
    strokeLinecap: styles[i].dash ? 'butt' : 'round',
  }))

  const chart = Plot.plot({
    width: 1700,
    height: 900,
    marginLeft: 207,
    marginRight: p.marginRight,
    marginTop: 75,
    marginBottom: 108,
    x: {domain: [-100, 2100], label: null},
    y: {domain: p.yDomain, label: null},
    style: {fontFamily: 'DejaVu Sans', fontSize: '28px', color: 'black', background: 'white'},
    marks: [
      ...lines,
      Plot.frame({stroke: 'black', strokeWidth: 2.5}),
      Plot.axisX({ticks: xTicks, tickSize: 9, tickPadding: 3, fontSize: 28, strokeWidth: 2.5, tickFormat: d => String(d), label: null}),
      Plot.axisY({ticks: p.yTicks, tickSize: 9, tickPadding: 3, fontSize: 28, strokeWidth: 2.5, tickFormat: d => d + 'K', label: null}),
      Plot.text([p.title], {text: d => d, frameAnchor: 'top', lineAnchor: 'middle', textAnchor: 'middle', dy: -21, fontSize: 30}),
      Plot.text(['Timestamp'], {text: d => d, frameAnchor: 'bottom', lineAnchor: 'middle', textAnchor: 'middle', dy: 59, fontSize: 32}),
      Plot.text([p.ylabel], {text: d => d, frameAnchor: 'left', lineAnchor: 'middle', textAnchor: 'middle', rotate: -90, dx: p.ylabelDx, fontSize: 32}),
    ],
  })

  // legend box like matplotlib, semi transparent over the lines
  const svg = d3.select(chart)
  const L = p.legend
  const g = svg.append('g').attr('text-anchor', 'start')
  g.append('rect')
    .attr('x', L.x).attr('y', L.y).attr('width', L.w).attr('height', L.h)
    .attr('rx', 5).attr('fill', 'white').attr('fill-opacity', 0.8)
    .attr('stroke', '#cccccc').attr('stroke-width', 2)
  seriesNames.forEach((name, i) => {
    const y = L.y + 19 + i * 35.3
    g.append('line')
      .attr('x1', L.x + 7).attr('x2', L.x + 61).attr('y1', y).attr('y2', y)
      .attr('stroke', styles[i].stroke).attr('stroke-width', styles[i].strokeWidth)
      .attr('stroke-dasharray', styles[i].dash)
    g.append('text')
      .attr('x', L.x + 77).attr('y', y).attr('dy', '0.35em')
      .attr('text-anchor', 'start')
      .attr('font-size', 24).attr('fill', 'black')
      .text(name)
  })

  d3.select(p.target).append(() => chart)
}

makePanel({
  target: '#pa',
  series: [comActual, comRnn, comLstm, comBi],
  title: 'Comparative Analysis for Commercial H2 Consumption',
  ylabel: 'H2 Commercial Consumption',
  ylabelDx: -119,
  yDomain: [9.125, 30.047],
  yTicks: [10, 12.5, 15, 17.5, 20, 22.5, 25, 27.5, 30],
  marginRight: 47,
  legend: {x: 705, y: 86, w: 431, h: 147},
})

makePanel({
  target: '#pb',
  series: [indActual, indRnn, indLstm, indBi],
  title: 'Comparative Analysis for Industrial H2 Consumption',
  ylabel: 'H2 Industrial Consumption',
  ylabelDx: -93,
  yDomain: [8.835, 26.76],
  yTicks: [10, 12, 14, 16, 18, 20, 22, 24, 26],
  marginRight: 48,
  legend: {x: 1190, y: 623, w: 448, h: 147},
})

makePanel({
  target: '#pc',
  series: [resActual, resRnn, resLstm, resBi],
  title: 'Comparative Analysis for Residential H2 Consumption',
  ylabel: 'H2 Residential Consumption',
  ylabelDx: -90,
  yDomain: [17.95, 48.21],
  yTicks: [20, 25, 30, 35, 40, 45],
  marginRight: 47,
  legend: {x: 1191, y: 87, w: 450, h: 147},
})
</script>
</body>
</html>
